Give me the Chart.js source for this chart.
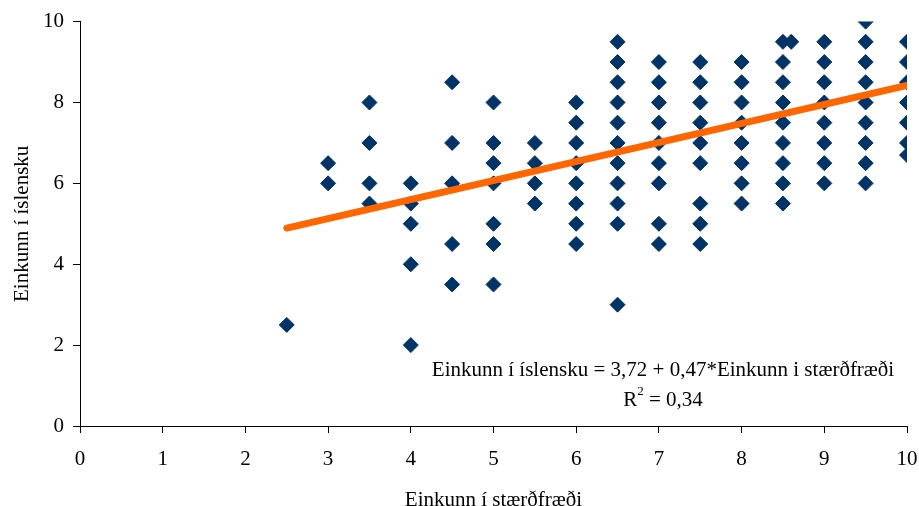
<!DOCTYPE html>
<html>
<head>
<meta charset="utf-8">
<script src="https://cdn.jsdelivr.net/npm/chart.js@4/dist/chart.umd.min.js"></script>
<style>
  html, body { margin: 0; padding: 0; background: #fff; }
  #wrap { width: 919px; height: 506px; }
</style>
</head>
<body>
<div id="wrap"><canvas id="chart" width="919" height="506"></canvas></div>
<script>
// math grade (x) for each column of points, and the Icelandic grades (y) found there
const mathGrades = [2.5, 3, 3.5, 4, 4.5, 5, 5.5, 6, 6.5, 7, 7.5, 8, 8.5, 8.6, 9, 9.5, 10];
const icelandicGrades = [
  [2.5],
  [6.5, 6],
  [8, 7, 6, 5.5],
  [6, 5.5, 5, 4, 2],
  [8.5, 7, 6, 4.5, 3.5],
  [8, 7, 6.5, 6, 5, 4.5, 3.5],
  [7, 6.5, 6, 5.5],
  [8, 7.5, 7, 6.5, 6, 5.5, 5, 4.5],
  [9.5, 9, 8.5, 8, 7.5, 7, 6.5, 6, 5.5, 5, 3],
  [9, 8.5, 8, 7.5, 7, 6.5, 6, 5, 4.5],
  [9, 8.5, 8, 7.5, 7, 6.5, 5.5, 5, 4.5],
  [9, 8.5, 8, 7.5, 7, 6.5, 6, 5.5],
  [9.5, 9, 8.5, 8, 7.5, 7, 6.5, 6, 5.5],
  [9.5],
  [9.5, 9, 8.5, 8, 7.5, 7, 6.5, 6],
  [10, 9.5, 9, 8.5, 8, 7.5, 7, 6.5, 6],
  [9.5, 9, 8.5, 8, 7.5, 7, 6.7]
];

// regression line shown on the chart
const intercept = 3.72;
const slope = 0.47;
const trendRange = [2.5, 10];
const equationText = 'Einkunn í íslensku = 3,72 + 0,47*Einkunn i stærðfræði';
const r2Text = '= 0,34';

const xTicks = [0, 1, 2, 3, 4, 5, 6, 7, 8, 9, 10];
const yTicks = [0, 2, 4, 6, 8, 10];

const points = [];
mathGrades.forEach((x, i) => {
  icelandicGrades[i].forEach((y) => points.push({ x, y }));
});
const trend = trendRange.map((x) => ({ x, y: intercept + slope * x }));

const FONT = 'Liberation Serif, Times New Roman, serif';
const SIZE = 21;

const equationPlugin = {
  id: 'equation',
  afterDatasetsDraw(chart) {
    const { ctx, scales } = chart;
    const cx = scales.x.getPixelForValue(7.05);
    const y1 = scales.y.getPixelForValue(1.38);
    const y2 = scales.y.getPixelForValue(0.62);
    ctx.save();
    ctx.fillStyle = '#000';
    ctx.textBaseline = 'middle';
    ctx.textAlign = 'center';
    ctx.font = SIZE + 'px ' + FONT;
    ctx.fillText(equationText, cx, y1);
    // "R² = 0,34" with a raised 2
    const rW = ctx.measureText('R').width;
    ctx.font = '13px ' + FONT;
    const supW = ctx.measureText('2').width;
    ctx.font = SIZE + 'px ' + FONT;
    const restW = ctx.measureText(' ' + r2Text).width;
    const left = cx - (rW + supW + restW) / 2;
    ctx.textAlign = 'left';
    ctx.fillText('R', left, y2);
    ctx.font = '13px ' + FONT;
    ctx.fillText('2', left + rW, y2 - 9);
    ctx.font = SIZE + 'px ' + FONT;
    ctx.fillText(' ' + r2Text, left + rW + supW, y2);
    ctx.restore();
  }
};

new Chart(document.getElementById('chart'), {
  type: 'scatter',
  data: {
    datasets: [
      {
        type: 'line',
        label: 'trend',
        data: trend,
        borderColor: '#FF6600',
        borderWidth: 7,
        borderCapStyle: 'round',
        pointRadius: 0,
        fill: false
      },
      {
        label: 'nemendur',
        data: points,
        pointStyle: 'rectRot',
        pointRadius: 7.5,
        pointHoverRadius: 7.5,
        backgroundColor: '#003366',
        borderColor: '#003366',
        borderWidth: 1
      }
    ]
  },
  options: {
    responsive: false,
    animation: false,
    events: [],
    layout: { padding: { left: 0, right: 0, top: 21, bottom: 0 } },
    plugins: { legend: { display: false }, tooltip: { enabled: false } },
    scales: {
      x: {
        type: 'linear',
        min: 0, max: 10,
        afterBuildTicks: (s) => { s.ticks = xTicks.map((v) => ({ value: v })); },
        afterFit: (s) => { s.height = 80; s.paddingLeft = 0; s.paddingRight = 12; },
        grid: { drawOnChartArea: false, color: '#000', tickLength: 7 },
        border: { color: '#000', width: 1 },
        ticks: { color: '#000', font: { family: FONT, size: SIZE }, padding: 14, maxRotation: 0 },
        title: { display: true, text: 'Einkunn í stærðfræði', color: '#000', font: { family: FONT, size: SIZE, lineHeight: 0.55 }, padding: 0 }
      },
      y: {
        type: 'linear',
        min: 0, max: 10,
        afterBuildTicks: (s) => { s.ticks = yTicks.map((v) => ({ value: v })); },
        afterFit: (s) => { s.width = 80; },
        grid: { drawOnChartArea: false, color: '#000', tickLength: 7 },
        border: { color: '#000', width: 1 },
        ticks: { color: '#000', font: { family: FONT, size: SIZE }, padding: 9 },
        title: { display: true, text: 'Einkunn í íslensku', color: '#000', font: { family: FONT, size: SIZE }, padding: { top: 10 } }
      }
    }
  },
  plugins: [equationPlugin]
});
</script>
</body>
</html>
